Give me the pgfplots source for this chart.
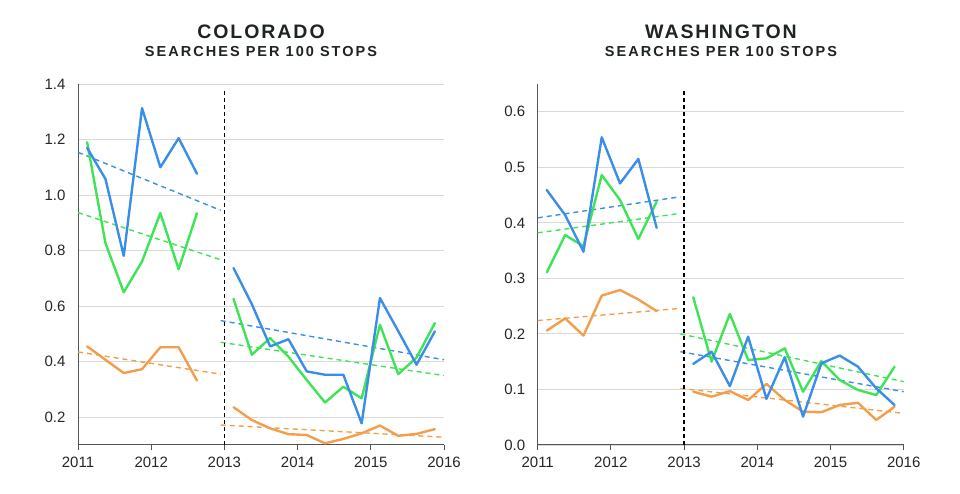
\documentclass[border=0pt]{standalone}
\usepackage{pgfplots}
\pgfplotsset{compat=1.18}
\usepackage{fontspec}
\setmainfont{Liberation Sans}
\newfontfamily\titlefont[LetterSpace=10]{Liberation Sans}
\newfontfamily\subfont[LetterSpace=14]{Liberation Sans}
\definecolor{cblue}{HTML}{3B8EE8}
\definecolor{cgreen}{HTML}{3EE455}
\definecolor{corange}{HTML}{F29E4C}
\definecolor{ctitle}{HTML}{1E2420}
\definecolor{cgrid}{HTML}{D9D9D9}
\definecolor{caxis}{HTML}{555555}

\pgfplotsset{
  myaxis/.style={
    scale only axis, width=366pt, height=361pt,
    anchor=south west,
    xmin=2011, xmax=2016,
    xtick={2011,2012,2013,2014,2015,2016},
    xticklabels={2011,2012,2013,2014,2015,2016},
    axis x line*=bottom, axis y line*=left,
    axis line style={draw=caxis, line width=1pt, -},
    ymajorgrids, grid style={draw=cgrid, line width=0.9pt},
    tick align=outside,
    xtick style={draw=caxis, line width=1pt},
    major tick length=5pt,
    ytick style={draw=none},
    ticklabel style={font=\fontsize{15}{15}\selectfont, text=black!85},
    /pgf/number format/assume math mode=true,
    yticklabel style={/pgf/number format/.cd, fixed, fixed zerofill, precision=1},
    yticklabel shift=4pt,
    xticklabel shift=3pt,
    clip=false,
  },
  dataline/.style={line width=2.4pt, line join=round, line cap=round},
  trend/.style={line width=1.4pt, dash pattern=on 5pt off 4pt},
}

\begin{document}
\begin{tikzpicture}[x=1pt,y=1pt]
\useasboundingbox (0,0) rectangle (960,494);

% ---------------- COLORADO ----------------
\begin{axis}[myaxis, at={(78pt,49pt)}, ymin=0.1, ymax=1.4,
  ytick={0.2,0.4,0.6,0.8,1.0,1.2,1.4}]
% trend lines
\addplot[trend, cblue] coordinates {(2011,1.154) (2012.95,0.945)};
\addplot[trend, cgreen] coordinates {(2011,0.937) (2012.95,0.767)};
\addplot[trend, corange] coordinates {(2011,0.435) (2012.95,0.355)};
\addplot[trend, cblue] coordinates {(2012.95,0.548) (2016,0.407)};
\addplot[trend, cgreen] coordinates {(2012.95,0.47) (2016,0.35)};
\addplot[trend, corange] coordinates {(2012.95,0.172) (2016,0.128)};
% policy line
\addplot[black, line width=1.8pt, dash pattern=on 4pt off 3pt] coordinates {(2013,0.1) (2013,1.38)};
% orange
\addplot[dataline, corange] coordinates {(2011.125,0.455) (2011.375,0.407) (2011.625,0.359) (2011.875,0.373) (2012.125,0.452) (2012.375,0.452) (2012.625,0.332)};
\addplot[dataline, corange] coordinates {(2013.125,0.236) (2013.375,0.19) (2013.625,0.16) (2013.875,0.139) (2014.125,0.136) (2014.375,0.106) (2014.625,0.122) (2014.875,0.142) (2015.125,0.17) (2015.375,0.133) (2015.625,0.14) (2015.875,0.157)};
% green
\addplot[dataline, cgreen] coordinates {(2011.125,1.19) (2011.375,0.827) (2011.625,0.65) (2011.875,0.761) (2012.125,0.935) (2012.375,0.733) (2012.625,0.935)};
\addplot[dataline, cgreen] coordinates {(2013.125,0.626) (2013.375,0.425) (2013.625,0.485) (2013.875,0.418) (2014.125,0.334) (2014.375,0.253) (2014.625,0.31) (2014.875,0.268) (2015.125,0.533) (2015.375,0.355) (2015.625,0.415) (2015.875,0.539)};
% blue
\addplot[dataline, cblue] coordinates {(2011.125,1.17) (2011.375,1.058) (2011.625,0.781) (2011.875,1.313) (2012.125,1.10) (2012.375,1.205) (2012.625,1.077)};
\addplot[dataline, cblue] coordinates {(2013.125,0.737) (2013.375,0.607) (2013.625,0.455) (2013.875,0.481) (2014.125,0.365) (2014.375,0.353) (2014.625,0.353) (2014.875,0.178) (2015.125,0.629) (2015.375,0.51) (2015.625,0.389) (2015.875,0.509)};
\end{axis}

% ---------------- WASHINGTON ----------------
\begin{axis}[myaxis, at={(537.7pt,49pt)}, ymin=0, ymax=0.65,
  ytick={0,0.1,0.2,0.3,0.4,0.5,0.6}]
\addplot[trend, cblue] coordinates {(2011,0.409) (2012.95,0.447)};
\addplot[trend, cgreen] coordinates {(2011,0.382) (2012.95,0.417)};
\addplot[trend, corange] coordinates {(2011,0.224) (2012.95,0.246)};
\addplot[trend, cblue] coordinates {(2012.95,0.168) (2016,0.096)};
\addplot[trend, cgreen] coordinates {(2012.95,0.2) (2016,0.114)};
\addplot[trend, corange] coordinates {(2012.95,0.102) (2016,0.057)};
\addplot[black, line width=1.8pt, dash pattern=on 4pt off 3pt] coordinates {(2013,0) (2013,0.639)};
% orange
\addplot[dataline, corange] coordinates {(2011.125,0.206) (2011.375,0.228) (2011.625,0.197) (2011.875,0.269) (2012.125,0.279) (2012.375,0.262) (2012.625,0.241)};
\addplot[dataline, corange] coordinates {(2013.125,0.096) (2013.375,0.087) (2013.625,0.097) (2013.875,0.081) (2014.125,0.11) (2014.375,0.081) (2014.625,0.06) (2014.875,0.059) (2015.125,0.072) (2015.375,0.076) (2015.625,0.045) (2015.875,0.069)};
% green
\addplot[dataline, cgreen] coordinates {(2011.125,0.311) (2011.375,0.378) (2011.625,0.358) (2011.875,0.486) (2012.125,0.441) (2012.375,0.371) (2012.625,0.438)};
\addplot[dataline, cgreen] coordinates {(2013.125,0.266) (2013.375,0.15) (2013.625,0.236) (2013.875,0.153) (2014.125,0.156) (2014.375,0.174) (2014.625,0.096) (2014.875,0.151) (2015.125,0.117) (2015.375,0.099) (2015.625,0.09) (2015.875,0.141)};
% blue
\addplot[dataline, cblue] coordinates {(2011.125,0.459) (2011.375,0.414) (2011.625,0.348) (2011.875,0.554) (2012.125,0.471) (2012.375,0.515) (2012.625,0.391)};
\addplot[dataline, cblue] coordinates {(2013.125,0.146) (2013.375,0.168) (2013.625,0.106) (2013.875,0.195) (2014.125,0.083) (2014.375,0.158) (2014.625,0.051) (2014.875,0.147) (2015.125,0.161) (2015.375,0.141) (2015.625,0.102) (2015.875,0.072)};
\end{axis}

% titles
\node[anchor=base, text=ctitle, font=\titlefont\bfseries\fontsize{19.5}{20}\selectfont] at (261,455) {COLORADO};
\node[anchor=base, text=ctitle, font=\subfont\bfseries\fontsize{14.5}{15}\selectfont] at (261,437) {SEARCHES PER 100 STOPS};
\node[anchor=base, text=ctitle, font=\titlefont\bfseries\fontsize{19.5}{20}\selectfont] at (721,455) {WASHINGTON};
\node[anchor=base, text=ctitle, font=\subfont\bfseries\fontsize{14.5}{15}\selectfont] at (721,437) {SEARCHES PER 100 STOPS};
\end{tikzpicture}
\end{document}
